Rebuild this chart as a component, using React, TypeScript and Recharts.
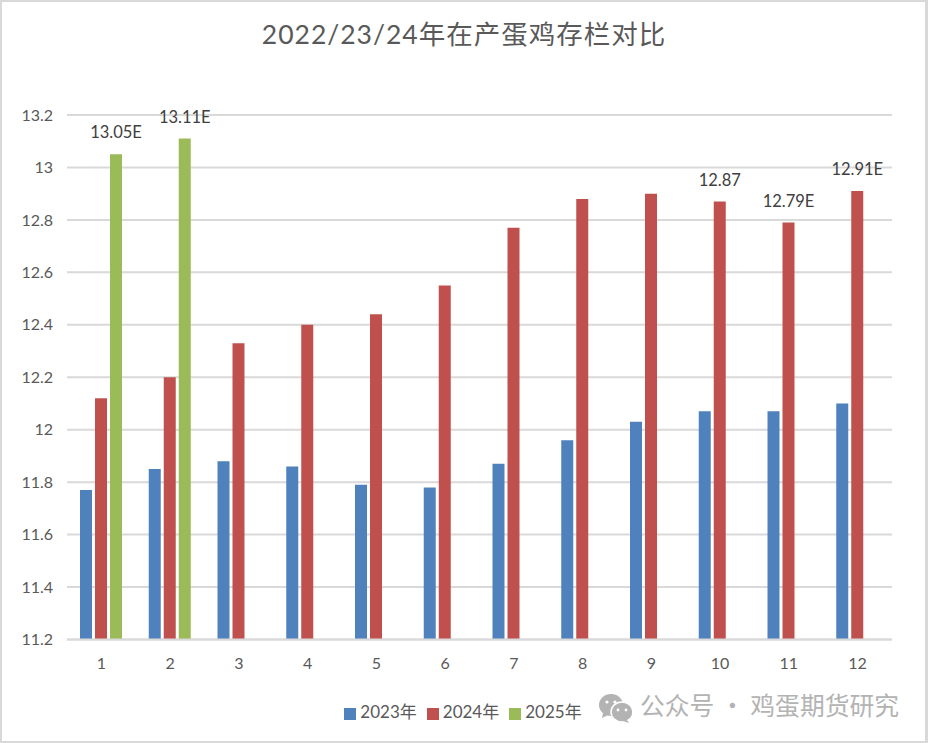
import React from 'react';
import { BarChart, Bar, XAxis, YAxis, CartesianGrid, Legend, LabelList } from 'recharts';

const months = ['1', '2', '3', '4', '5', '6', '7', '8', '9', '10', '11', '12'];
const y2023 = [11.77, 11.85, 11.88, 11.86, 11.79, 11.78, 11.87, 11.96, 12.03, 12.07, 12.07, 12.1];
const y2024 = [12.12, 12.2, 12.33, 12.4, 12.44, 12.55, 12.77, 12.88, 12.9, 12.87, 12.79, 12.91];
const y2025 = [13.05, 13.11];
const labels2024 = [null, null, null, null, null, null, null, null, null, '12.87', '12.79E', '12.91E'];
const labels2025 = ['13.05E', '13.11E'];
const yTicks = [11.2, 11.4, 11.6, 11.8, 12, 12.2, 12.4, 12.6, 12.8, 13, 13.2];

const data = months.map((m, i) => ({
  month: m,
  a: y2023[i],
  b: y2024[i],
  c: y2025[i] ?? null,
  lb: labels2024[i],
  lc: labels2025[i] ?? null,
}));

const latin = 'Lato, "Noto Sans CJK SC", sans-serif';
const cjk = '"Noto Sans CJK SC", sans-serif';

export default function App() {
  return (
    <div style={{ position: 'absolute', left: 0, top: 0, width: 928, height: 743, background: '#fff', overflow: 'hidden' }}>
      <div style={{ position: 'absolute', left: 0, top: 0, width: 923, height: 739, borderStyle: 'solid', borderColor: '#d9d9d9', borderWidth: '2px 3px 2px 2px' }} />
      <div style={{ position: 'absolute', left: 0, width: 928, top: 16, textAlign: 'center', fontFamily: latin, fontSize: 26.5, color: '#595959', letterSpacing: 1, lineHeight: '36px' }}>
        2022/23/24年在产蛋鸡存栏对比
      </div>
      <div style={{ position: 'absolute', left: 0, top: 0 }}>
        <BarChart
          width={928}
          height={743}
          data={data}
          barSize={12}
          barGap={3}
          margin={{ top: 115, right: 36, bottom: 63, left: 0 }}
        >
          <CartesianGrid horizontal vertical={false} stroke="#d9d9d9" strokeWidth={2} />
          <XAxis
            dataKey="month"
            height={15.5}
            tickLine={false}
            axisLine={{ stroke: '#d9d9d9', strokeWidth: 2 }}
            tick={{ fill: '#595959', fontSize: 16, fontFamily: latin }}
            tickMargin={12}
            interval={0}
          />
          <YAxis
            width={67}
            domain={[11.2, 13.2]}
            ticks={yTicks}
            allowDataOverflow
            interval={0}
            tickLine={false}
            axisLine={false}
            tick={{ fill: '#595959', fontSize: 16, fontFamily: latin }}
            tickMargin={8}
          />
          <Legend
            verticalAlign="bottom"
            height={0}
            iconType="square"
            iconSize={12}
            wrapperStyle={{ position: 'absolute', left: 338, top: 698, width: 260, fontFamily: latin, fontSize: 17 }}
            formatter={(v: string) => <span style={{ color: '#595959' }}>{v}</span>}
          />
          <Bar dataKey="a" name="2023年" fill="#4f81bd" isAnimationActive={false} />
          <Bar dataKey="b" name="2024年" fill="#c0504d" isAnimationActive={false}>
            <LabelList dataKey="lb" position="top" offset={16} fill="#404040" fontSize={16.5} fontFamily={latin} />
          </Bar>
          <Bar dataKey="c" name="2025年" fill="#9bbb59" isAnimationActive={false}>
            <LabelList dataKey="lc" position="top" offset={16} fill="#404040" fontSize={16.5} fontFamily={latin} />
          </Bar>
        </BarChart>
      </div>
      <svg width={36} height={32} style={{ position: 'absolute', left: 598, top: 692 }}>
        <ellipse cx={13} cy={13} rx={12} ry={11} fill="#b3b3b3" />
        <path d="M5 21 L4 26 L10 23 Z" fill="#b3b3b3" />
        <ellipse cx={24} cy={20} rx={11} ry={10} fill="#b3b3b3" stroke="#fff" strokeWidth={1.5} />
        <path d="M29 28 L31 31 L25 29 Z" fill="#b3b3b3" />
        <circle cx={9} cy={10} r={1.6} fill="#fff" />
        <circle cx={17} cy={10} r={1.6} fill="#fff" />
        <circle cx={20} cy={18} r={1.4} fill="#fff" />
        <circle cx={28} cy={18} r={1.4} fill="#fff" />
      </svg>
      <div style={{ position: 'absolute', left: 640, top: 687, fontFamily: cjk, fontSize: 24.8, color: '#b3b3b3', lineHeight: '34px', whiteSpace: 'nowrap' }}>
        公众号 · 鸡蛋期货研究
      </div>
    </div>
  );
}
